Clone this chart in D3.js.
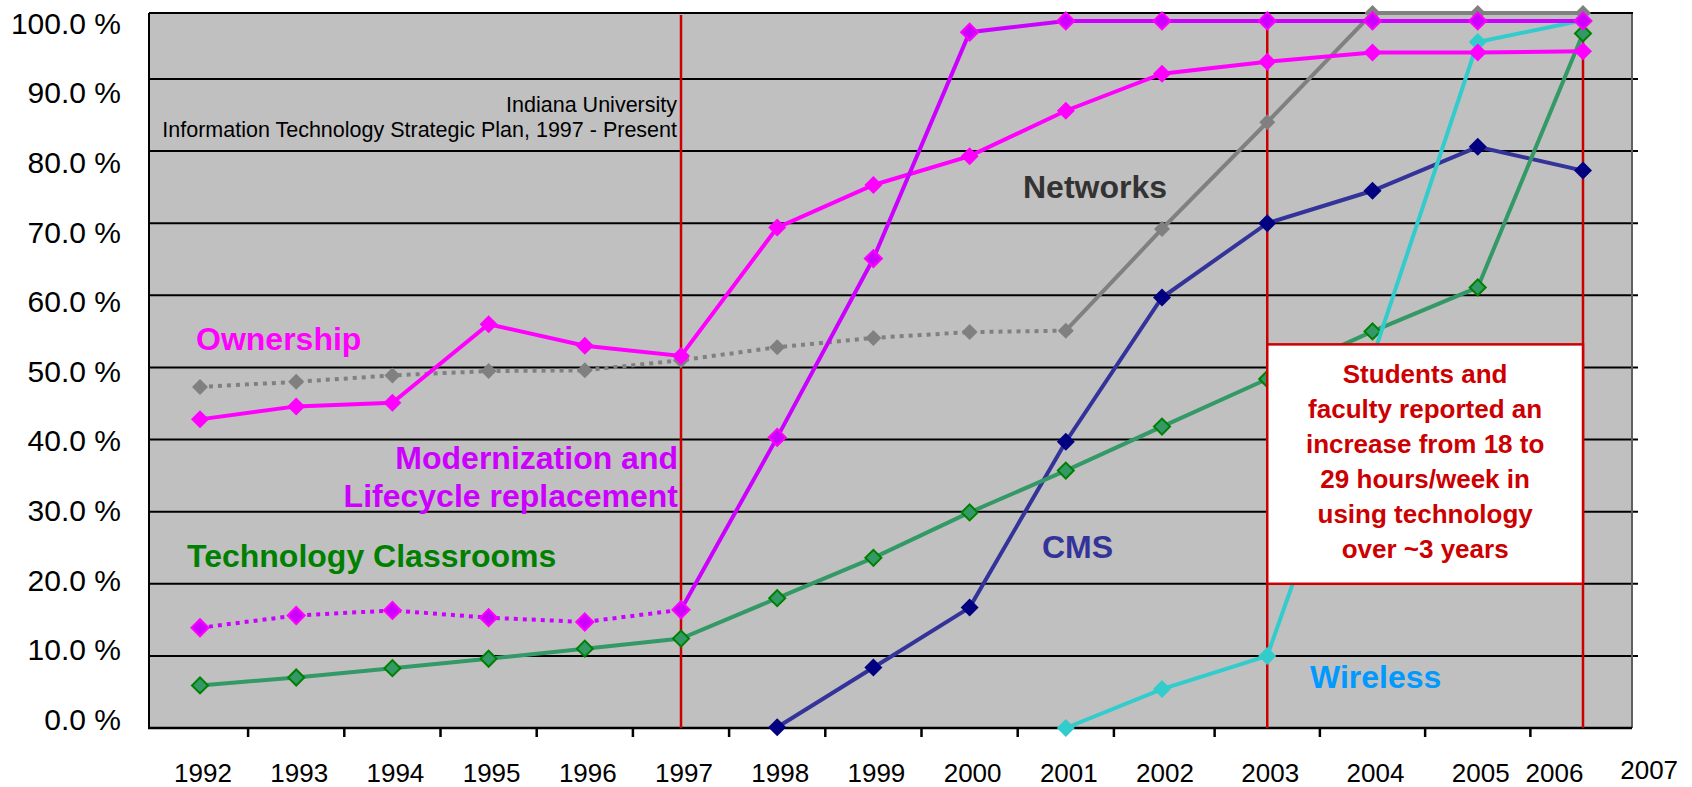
<!DOCTYPE html>
<html>
<head>
<meta charset="utf-8">
<script src="https://cdn.jsdelivr.net/npm/d3@7/dist/d3.min.js"></script>
<style>
html, body { margin: 0; padding: 0; background: #fff; }
svg text { font-family: "Liberation Sans", Arial, sans-serif; }
</style>
</head>
<body>
<svg id="chart" width="1692" height="787"></svg>
<script>
// values (percent)
const years = d3.range(1992, 2007);
const ownership     = [42.8, 44.6, 45.1, 56.0, 53.0, 51.6, 69.4, 75.3, 79.3, 85.6, 90.8, 92.6, 94.0, 94.0, 94.2];
const networks      = [47.3, 48.0, 48.9, 49.5, 49.6, 51.0, 52.8, 54.1, 54.9, 55.1, 69.2, 84.0, 100, 100, 100];
const modernization = [13.9, 15.6, 16.3, 15.3, 14.7, 16.4, 40.3, 65.1, 97.1, 98.8, 98.8, 98.8, 98.8, 98.8, 98.8];
const classrooms    = [5.9, 7.0, 8.3, 9.6, 11.0, 12.4, 18.0, 23.6, 29.9, 35.7, 41.8, 48.4, 55.0, 61.1, 96.9];
const cms           = [null, null, null, null, null, null, 0.1, 8.4, 16.7, 39.7, 59.7, 70.0, 74.5, 80.6, 77.3];
const wireless      = [null, null, null, null, null, null, null, null, null, 0, 5.4, 10.0, 51.3, 95.6, 98.9];

const yTicks = d3.range(0, 101, 10);
const tickLabels = ["1992","1993","1994","1995","1996","1997","1998","1999","2000","2001","2002","2003","2004","2005","2006","2007"];
const tickLabelAt = [1992,1993,1994,1995,1996,1997,1998,1999,2000,2001,2002,2003,2004,2005,2005.7,2006.6];
const milestones = [1997, 2003, 2006];

const boxLines = ["Students and", "faculty reported an", "increase from 18 to", "29 hours/week in", "using technology", "over ~3 years"];

// layout
const plot = {left: 149, top: 13, right: 1632, bottom: 728};
const svg = d3.select('#chart');

// the years after 2002 are drawn a bit wider apart, and 90-100 % is squeezed
const x = d3.scaleLinear().domain([1992, 2002, 2006]).range([200, 1162, 1583]);
const y = d3.scaleLinear().domain([0, 90, 100]).range([plot.bottom, plot.top + 66, plot.top]);
const yLabel = d3.scaleLinear().domain([0, 100]).range([719, 23]);

// plot background
svg.append('rect')
	.attr('x', plot.left).attr('y', plot.top)
	.attr('width', plot.right - plot.left).attr('height', plot.bottom - plot.top)
	.attr('fill', '#c0c0c0');

// grid lines
svg.append('g')
	.selectAll('line')
	.data(yTicks.filter(v => v > 0 && v < 100))
	.enter().append('line')
	.attr('x1', plot.left).attr('x2', plot.right + 6)
	.attr('y1', d => y(d)).attr('y2', d => y(d))
	.attr('stroke', '#000').attr('stroke-width', 2);

// border
svg.append('line').attr('x1', plot.right).attr('x2', plot.right)
	.attr('y1', plot.top).attr('y2', plot.bottom)
	.attr('stroke', '#606060').attr('stroke-width', 2);
svg.append('line').attr('x1', plot.left).attr('x2', plot.right + 1)
	.attr('y1', plot.top).attr('y2', plot.top)
	.attr('stroke', '#000').attr('stroke-width', 2);
svg.append('line').attr('x1', plot.left).attr('x2', plot.left)
	.attr('y1', plot.top).attr('y2', plot.bottom)
	.attr('stroke', '#000').attr('stroke-width', 2);

// y labels
svg.append('g')
	.selectAll('text')
	.data(yTicks)
	.enter().append('text')
	.attr('x', 121)
	.attr('y', d => yLabel(d) + 10.7)
	.attr('text-anchor', 'end')
	.attr('font-size', 30)
	.attr('fill', '#000')
	.text(d => d3.format('.1f')(d) + ' %');

// x axis
svg.append('line').attr('x1', plot.left - 1).attr('x2', plot.right)
	.attr('y1', plot.bottom).attr('y2', plot.bottom)
	.attr('stroke', '#000').attr('stroke-width', 2.5);
svg.append('g')
	.selectAll('line')
	.data(years.slice(0, -1))
	.enter().append('line')
	.attr('x1', d => x(d + 0.5)).attr('x2', d => x(d + 0.5))
	.attr('y1', plot.bottom).attr('y2', plot.bottom + 9)
	.attr('stroke', '#000').attr('stroke-width', 2.5);
svg.append('g')
	.selectAll('text')
	.data(tickLabels)
	.enter().append('text')
	.attr('x', (d, i) => x(tickLabelAt[i]) + 3)
	.attr('y', (d, i) => i == tickLabels.length - 1 ? 779 : 782)
	.attr('text-anchor', 'middle')
	.attr('font-size', 26)
	.text(d => d);

// red milestone lines
svg.append('g')
	.selectAll('line')
	.data(milestones)
	.enter().append('line')
	.attr('x1', d => x(d)).attr('x2', d => x(d))
	.attr('y1', plot.top + 2).attr('y2', plot.bottom)
	.attr('stroke', '#cc0000').attr('stroke-width', 2.5);

// series
const series = [
	{name: 'networks', values: networks, color: '#808080', fill: '#808080', stroke: 'none', size: 16, dottedUntil: 2001},
	{name: 'cms', values: cms, color: '#333399', fill: '#000080', stroke: 'none', size: 18},
	{name: 'classrooms', values: classrooms, color: '#339966', fill: '#339966', stroke: '#008000', size: 16},
	{name: 'wireless', values: wireless, color: '#33cccc', fill: '#33cccc', stroke: 'none', size: 18},
	{name: 'ownership', values: ownership, color: '#ff00ff', fill: '#ff00ff', stroke: 'none', size: 18},
	{name: 'modernization', values: modernization, color: '#cc00ff', fill: '#cc00ff', stroke: '#ff00ff', size: 17, dottedUntil: 1997}
];

const line = d3.line().x(d => x(d.year)).y(d => y(d.value));

series.forEach(s => {
	const pts = [];
	s.values.forEach((v, i) => {
		if (v != null) pts.push({year: years[i], value: v});
	});
	const g = svg.append('g').attr('class', s.name);

	if (s.dottedUntil) {
		g.append('path')
			.attr('d', line(pts.filter(p => p.year <= s.dottedUntil)))
			.attr('fill', 'none').attr('stroke', s.color)
			.attr('stroke-width', 4).attr('stroke-dasharray', '4,5');
		g.append('path')
			.attr('d', line(pts.filter(p => p.year >= s.dottedUntil)))
			.attr('fill', 'none').attr('stroke', s.color).attr('stroke-width', 4);
	} else {
		g.append('path')
			.attr('d', line(pts))
			.attr('fill', 'none').attr('stroke', s.color).attr('stroke-width', 4);
	}

	// diamonds = squares turned 45deg
	const side = s.size / Math.SQRT2;
	g.selectAll('path.mark')
		.data(pts)
		.enter().append('path')
		.attr('class', 'mark')
		.attr('d', d3.symbol(d3.symbolSquare, side * side))
		.attr('transform', d => `translate(${x(d.year)},${y(d.value)}) rotate(45)`)
		.attr('fill', s.fill)
		.attr('stroke', s.stroke)
		.attr('stroke-width', s.stroke == 'none' ? 0 : 2);
});

// note box
const bx0 = x(2003), bx1 = x(2006), by0 = y(53.2), by1 = y(20);
svg.append('rect')
	.attr('x', bx0).attr('y', by0)
	.attr('width', bx1 - bx0).attr('height', by1 - by0)
	.attr('fill', '#fff').attr('stroke', '#cc0000').attr('stroke-width', 2.5);
svg.append('g')
	.selectAll('text')
	.data(boxLines)
	.enter().append('text')
	.attr('x', (bx0 + bx1) / 2)
	.attr('y', (d, i) => 383 + i * 35)
	.attr('text-anchor', 'middle')
	.attr('font-size', 26).attr('font-weight', 'bold')
	.attr('fill', '#cc0000')
	.text(d => d);

// labels
function label(txt, px, py, color, anchor, size, weight) {
	svg.append('text')
		.attr('x', px).attr('y', py)
		.attr('text-anchor', anchor)
		.attr('font-size', size)
		.attr('font-weight', weight)
		.attr('fill', color)
		.text(txt);
}
label('Indiana University', 677, 112, '#000', 'end', 21.5, 'normal');
label('Information Technology Strategic Plan, 1997 - Present', 677, 137, '#000', 'end', 21.5, 'normal');
label('Ownership', 196, 350, '#ff00ff', 'start', 32, 'bold');
label('Networks', 1023, 198, '#333333', 'start', 32, 'bold');
label('Modernization and', 678, 469, '#cc00ff', 'end', 32, 'bold');
label('Lifecycle replacement', 678, 507, '#cc00ff', 'end', 32, 'bold');
label('Technology Classrooms', 187, 567, '#008000', 'start', 32, 'bold');
label('CMS', 1042, 558, '#333399', 'start', 32, 'bold');
label('Wireless', 1310, 688, '#0099ff', 'start', 32, 'bold');
</script>
</body>
</html>
